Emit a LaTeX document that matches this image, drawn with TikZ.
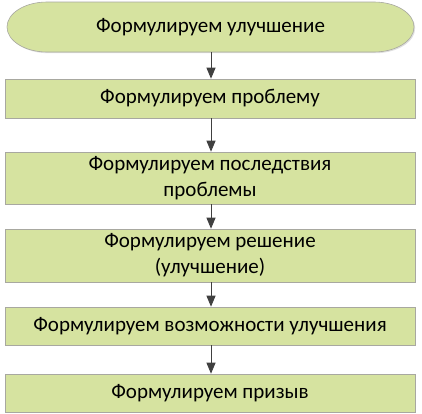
\documentclass[tikz,border=0pt]{standalone}
\usepackage{fontspec}
\setmainfont{Carlito}
\usetikzlibrary{arrows.meta,shadows}
\definecolor{boxfill}{HTML}{D6E3A0}
\definecolor{boxline}{HTML}{A8A8A0}
\definecolor{arrowc}{HTML}{404040}
\tikzset{
  shapelook/.style={draw=boxline, line width=0.6pt, fill=boxfill,
    drop shadow={opacity=0.25, shadow xshift=1.2pt, shadow yshift=-1.2pt}},
  textlook/.style={align=center, font=\fontsize{21}{26}\selectfont, inner sep=0pt},
  stepbox/.style={shapelook, textlook, minimum width=410pt},
  termbox/.style={textlook, minimum width=407pt, minimum height=50pt},
  flow/.style={draw=arrowc, line width=0.9pt, -{Triangle[length=11pt,width=9pt]}}
}
\begin{document}
\begin{tikzpicture}[x=1pt,y=1pt]
\useasboundingbox (0,0) rectangle (422,-413);
\path[shapelook] (47,-2) -- (374,-2) arc[start angle=90,end angle=-90,x radius=40,y radius=25]
  -- (47,-52) arc[start angle=270,end angle=90,x radius=40,y radius=25] -- cycle;
\node[termbox] (t) at (210.5,-27) {Формулируем улучшение};
\node[stepbox, minimum height=39pt] (b2) at (210,-98.5) {Формулируем проблему};
\node[stepbox, minimum height=52pt] (b3) at (210,-178) {Формулируем последствия\\проблемы};
\node[stepbox, minimum height=53pt] (b4) at (210,-255.5) {Формулируем решение\\(улучшение)};
\node[stepbox, minimum height=38pt] (b5) at (210,-326) {Формулируем возможности улучшения};
\node[stepbox, minimum height=38pt] (b6) at (210,-393) {Формулируем призыв};
\draw[flow] (t.south -| 211,0) -- (b2.north -| 211,0);
\draw[flow] (b2.south -| 211,0) -- (b3.north -| 211,0);
\draw[flow] (b3.south -| 211,0) -- (b4.north -| 211,0);
\draw[flow] (b4.south -| 211,0) -- (b5.north -| 211,0);
\draw[flow] (b5.south -| 211,0) -- (b6.north -| 211,0);
\end{tikzpicture}
\end{document}
